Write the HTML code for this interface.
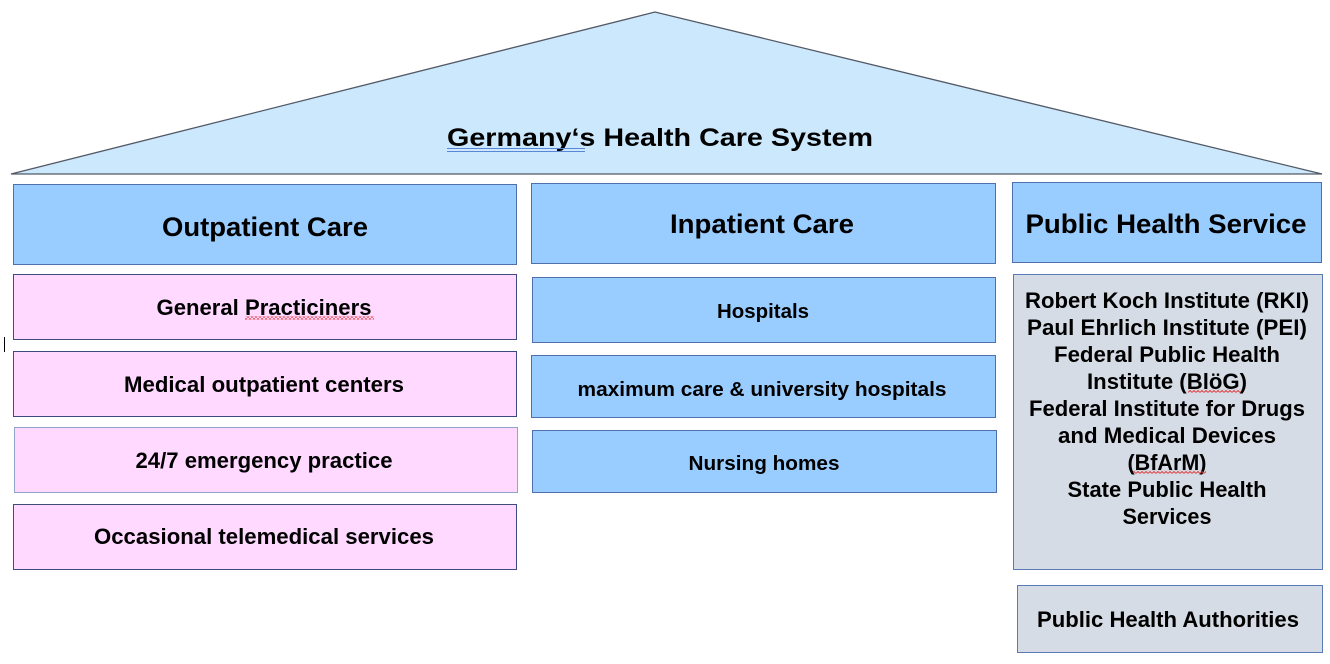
<!DOCTYPE html>
<html><head><meta charset="utf-8"><style>
html,body{margin:0;padding:0;background:#fff;}
svg{display:block;}
text{font-family:"Liberation Sans",Arial,sans-serif;font-weight:bold;fill:#000;}
</style></head><body>
<svg width="1330" height="664" viewBox="0 0 1330 664" xmlns="http://www.w3.org/2000/svg">
<defs>
<pattern id="sq" x="0" y="0" width="4" height="3" patternUnits="userSpaceOnUse">
<path d="M0,2.5 L2,0.5 L4,2.5" fill="none" stroke="#e03030" stroke-width="0.9"/>
</pattern>
</defs>
<!-- roof -->
<polygon points="11,174 655,12 1322,174" fill="#cce8fd" stroke="#535a66" stroke-width="1.3"/>
<text x="447" y="146" font-size="25" textLength="426" lengthAdjust="spacingAndGlyphs">Germany‘s Health Care System</text>
<line x1="447" y1="148.5" x2="585" y2="148.5" stroke="#5b86d6" stroke-width="1"/>
<line x1="447" y1="151.5" x2="585" y2="151.5" stroke="#5b86d6" stroke-width="1"/>

<!-- headers -->
<rect x="13.5" y="184.5" width="503" height="80" fill="#99ccff" stroke="#4f6fad" stroke-width="1"/>
<text x="265" y="236" font-size="27" text-anchor="middle" textLength="206" lengthAdjust="spacingAndGlyphs">Outpatient Care</text>
<rect x="531.5" y="183.5" width="464" height="80" fill="#99ccff" stroke="#4f6fad" stroke-width="1"/>
<text x="762" y="233" font-size="27" text-anchor="middle" textLength="184" lengthAdjust="spacingAndGlyphs">Inpatient Care</text>
<rect x="1012.5" y="182.5" width="309" height="80" fill="#99ccff" stroke="#4f6fad" stroke-width="1"/>
<text x="1166" y="233" font-size="27" text-anchor="middle" textLength="281" lengthAdjust="spacingAndGlyphs">Public Health Service</text>

<!-- outpatient items -->
<rect x="13.5" y="274.5" width="503" height="65" fill="#ffd9ff" stroke="#3e4b7c" stroke-width="1"/>
<text x="264" y="315" font-size="22" text-anchor="middle" textLength="215" lengthAdjust="spacingAndGlyphs">General Practiciners</text>
<rect x="245" y="316.5" width="129" height="3" fill="url(#sq)"/>
<rect x="13.5" y="351.5" width="503" height="65" fill="#ffd9ff" stroke="#3e4b7c" stroke-width="1"/>
<text x="264" y="392" font-size="22" text-anchor="middle" textLength="280" lengthAdjust="spacingAndGlyphs">Medical outpatient centers</text>
<rect x="14.5" y="427.5" width="503" height="65" fill="#ffd9ff" stroke="#93a3c9" stroke-width="1"/>
<text x="264" y="468" font-size="22" text-anchor="middle" textLength="257" lengthAdjust="spacingAndGlyphs">24/7 emergency practice</text>
<rect x="13.5" y="504.5" width="503" height="65" fill="#ffd9ff" stroke="#3e4b7c" stroke-width="1"/>
<text x="264" y="544" font-size="22" text-anchor="middle" textLength="340" lengthAdjust="spacingAndGlyphs">Occasional telemedical services</text>

<!-- cursor -->
<line x1="4.5" y1="337" x2="4.5" y2="352" stroke="#000" stroke-width="1"/>

<!-- inpatient items -->
<rect x="532.5" y="277.5" width="463" height="65" fill="#99ccff" stroke="#4f6fad" stroke-width="1"/>
<text x="763" y="318" font-size="20.5" text-anchor="middle" textLength="92" lengthAdjust="spacingAndGlyphs">Hospitals</text>
<rect x="531.5" y="355.5" width="464" height="62" fill="#99ccff" stroke="#4f6fad" stroke-width="1"/>
<text x="762" y="396" font-size="20.5" text-anchor="middle" textLength="369" lengthAdjust="spacingAndGlyphs">maximum care &amp; university hospitals</text>
<rect x="532.5" y="430.5" width="464" height="62" fill="#99ccff" stroke="#4f6fad" stroke-width="1"/>
<text x="764" y="470" font-size="20.5" text-anchor="middle" textLength="151" lengthAdjust="spacingAndGlyphs">Nursing homes</text>

<!-- public health -->
<rect x="1013.5" y="274.5" width="309" height="295" fill="#d6dce5" stroke="#5b7bb8" stroke-width="1"/>
<text x="1167" y="308" font-size="22" text-anchor="middle" textLength="284" lengthAdjust="spacingAndGlyphs">Robert Koch Institute (RKI)</text>
<text x="1167" y="335" font-size="22" text-anchor="middle" textLength="280" lengthAdjust="spacingAndGlyphs">Paul Ehrlich Institute (PEI)</text>
<text x="1167" y="362" font-size="22" text-anchor="middle" textLength="226" lengthAdjust="spacingAndGlyphs">Federal Public Health</text>
<text x="1167" y="389" font-size="22" text-anchor="middle" textLength="160" lengthAdjust="spacingAndGlyphs">Institute (BlöG)</text>
<rect x="1188" y="389.5" width="53" height="3" fill="url(#sq)"/>
<text x="1167" y="416" font-size="22" text-anchor="middle" textLength="276" lengthAdjust="spacingAndGlyphs">Federal Institute for Drugs</text>
<text x="1167" y="443" font-size="22" text-anchor="middle" textLength="218" lengthAdjust="spacingAndGlyphs">and Medical Devices</text>
<text x="1167" y="470" font-size="22" text-anchor="middle" textLength="79" lengthAdjust="spacingAndGlyphs">(BfArM)</text>
<rect x="1133" y="470.5" width="73" height="3" fill="url(#sq)"/>
<text x="1167" y="497" font-size="22" text-anchor="middle" textLength="199" lengthAdjust="spacingAndGlyphs">State Public Health</text>
<text x="1167" y="524" font-size="22" text-anchor="middle" textLength="89" lengthAdjust="spacingAndGlyphs">Services</text>

<rect x="1017.5" y="585.5" width="305" height="67" fill="#d6dce5" stroke="#5b7bb8" stroke-width="1"/>
<text x="1168" y="627" font-size="22" text-anchor="middle" textLength="262" lengthAdjust="spacingAndGlyphs">Public Health Authorities</text>
</svg>
</body></html>
